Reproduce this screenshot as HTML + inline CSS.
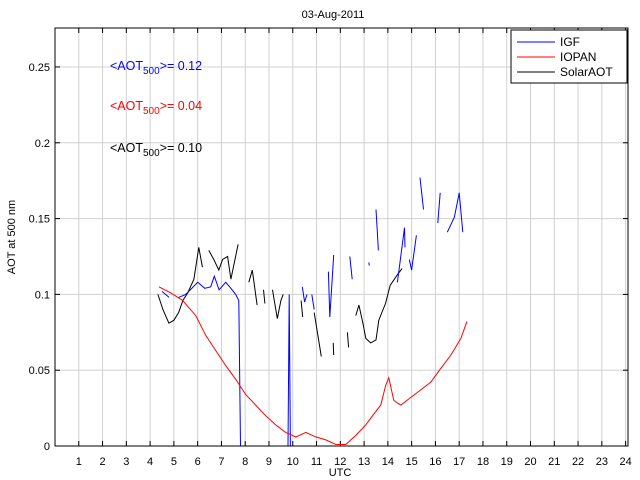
<!DOCTYPE html>
<html><head><meta charset="utf-8"><style>
body{margin:0;background:#fff;}
svg{display:block;font-family:"Liberation Sans",sans-serif;}
</style></head><body>
<svg id="chart" width="640" height="480" viewBox="0 0 640 480"></svg>
<script>
const xTicks=[1,2,3,4,5,6,7,8,9,10,11,12,13,14,15,16,17,18,19,20,21,22,23,24];
const yTicks=[0,0.05,0.1,0.15,0.2,0.25];
const yTickLabels=["0","0.05","0.1","0.15","0.2","0.25"];
const iopanT=[4.37,4.87,5.37,5.92,6.34,6.76,7.18,7.6,8.02,8.44,8.86,9.28,9.7,10.13,10.55,10.97,11.39,11.81,12.23,12.65,13.07,13.36,13.7,13.91,14.04,14.25,14.54,14.96,15.38,15.8,16.22,16.65,17.07,17.32];
const iopanV=[0.105,0.101,0.096,0.086,0.073,0.063,0.053,0.044,0.034,0.027,0.020,0.014,0.009,0.006,0.009,0.006,0.004,0.001,0.001,0.007,0.014,0.020,0.027,0.040,0.045,0.030,0.027,0.032,0.037,0.042,0.051,0.060,0.071,0.082];
const igfT=[4.5,4.8,null,5.2,5.5,6.0,6.3,6.55,6.7,6.9,7.18,7.4,7.6,7.73,7.8,9.8,9.85,9.9,null,10.4,10.5,10.6,null,10.8,10.9,null,11.5,11.56,11.72,null,12.4,12.5,null,13.2,13.22,null,13.5,13.6,null,14.4,14.7,14.72,null,14.9,15.0,15.2,null,15.35,15.5,null,16.1,16.2,null,16.5,16.8,17.0,17.15];
const igfV=[0.102,0.098,null,0.098,0.1,0.108,0.104,0.105,0.112,0.103,0.108,0.104,0.1,0.096,0,0,0.10,0,null,0.105,0.095,0.100,null,0.1,0.09,null,0.115,0.085,0.126,null,0.125,0.11,null,0.121,0.119,null,0.156,0.129,null,0.108,0.144,0.131,null,0.123,0.116,0.139,null,0.177,0.156,null,0.147,0.167,null,0.141,0.151,0.167,0.141];
const solarT=[4.33,4.54,4.79,5.0,5.2,5.38,5.58,5.84,6.05,6.2,null,6.47,6.68,6.89,7.05,7.26,7.4,7.7,null,8.15,8.3,8.5,null,8.77,8.83,null,9.15,9.35,9.5,9.6,null,10.35,10.42,null,10.9,11.2,null,11.7,11.72,null,12.3,12.35,null,12.65,12.78,12.95,13.07,13.28,13.5,13.62,13.9,14.1,14.4,14.6];
const solarV=[0.1,0.09,0.081,0.083,0.088,0.096,0.101,0.11,0.131,0.118,null,0.129,0.123,0.116,0.123,0.125,0.11,0.133,null,0.108,0.116,0.093,null,0.103,0.094,null,0.103,0.084,0.096,0.1,null,0.096,0.085,null,0.088,0.059,null,0.068,0.06,null,0.075,0.065,null,0.086,0.093,0.081,0.071,0.068,0.07,0.083,0.094,0.106,0.113,0.117];

const L=55,R=628,T=28,B=446,XMAX=24.1,YMAX=0.2757;
const X=t=>L+t/XMAX*(R-L);
const Y=v=>B-v/YMAX*(B-T);
const NS="http://www.w3.org/2000/svg";
const svg=document.getElementById('chart');
function mk(tag,attrs,parent){const e=document.createElementNS(NS,tag);for(const k in attrs)e.setAttribute(k,attrs[k]);(parent||svg).appendChild(e);return e;}

const bg=mk('rect',{x:L,y:T,width:R-L,height:B-T,fill:'#fff'});



xTicks.forEach(t=>{
  const g=mk('line',{x1:X(t),x2:X(t),y1:T,y2:B,stroke:'#d0d0d0','stroke-width':1});
  
  
  mk('line',{x1:X(t),x2:X(t),y1:B,y2:B-5,stroke:'#000'});
  mk('line',{x1:X(t),x2:X(t),y1:T,y2:T+5,stroke:'#000'});
  const tx=mk('text',{x:X(t),y:465,'font-size':11,'text-anchor':'middle',fill:'#000'});
  tx.textContent=t;
  
  
});
yTicks.forEach((v,i)=>{
  if(v>0){const g=mk('line',{x1:L,x2:R,y1:Y(v),y2:Y(v),stroke:'#d0d0d0','stroke-width':1});
  
  }
  mk('line',{x1:L,x2:L+5,y1:Y(v),y2:Y(v),stroke:'#000'});
  mk('line',{x1:R,x2:R-5,y1:Y(v),y2:Y(v),stroke:'#000'});
  const tx=mk('text',{x:50,y:Y(v)+4,'font-size':11,'text-anchor':'end',fill:'#000'});
  tx.textContent=yTickLabels[i];
  
  
});

function path(ts,vs,color,name){
  let d='',pen=false;
  for(let i=0;i<ts.length;i++){
    if(ts[i]===null){pen=false;continue;}
    d+=(pen?'L':'M')+X(ts[i]).toFixed(1)+' '+Y(vs[i]).toFixed(1)+' ';pen=true;
  }
  const p=mk('path',{d:d,fill:'none',stroke:color,'stroke-width':1});
  
  
}
path(solarT,solarV,'#000','solaraot-line');
path(igfT,igfV,'#0000ff','igf-line');
path(iopanT,iopanV,'#ff0000','iopan-line');

const frame=mk('rect',{x:L,y:T,width:R-L,height:B-T,fill:'none',stroke:'#000'});


</script>
<svg style="position:absolute;left:0;top:0" width="640" height="480">
  <text x="333" y="18" font-size="11" text-anchor="middle" font-family="Liberation Sans, sans-serif">03-Aug-2011</text>
  <text x="340" y="476" font-size="11" text-anchor="middle" font-family="Liberation Sans, sans-serif">UTC</text>
  <text transform="translate(15,237) rotate(-90)" font-size="11" text-anchor="middle" font-family="Liberation Sans, sans-serif">AOT at 500 nm</text>
  <g font-family="Liberation Sans, sans-serif" font-size="12.5">
    <text x="110" y="70" fill="#0000ff">&lt;AOT<tspan dy="4" font-size="10">500</tspan><tspan dy="-4">&gt;= 0.12</tspan></text>
    <text x="110" y="110" fill="#ff0000">&lt;AOT<tspan dy="4" font-size="10">500</tspan><tspan dy="-4">&gt;= 0.04</tspan></text>
    <text x="110" y="152" fill="#000">&lt;AOT<tspan dy="4" font-size="10">500</tspan><tspan dy="-4">&gt;= 0.10</tspan></text>
  </g>
  <g font-family="Liberation Sans, sans-serif" font-size="12">
    <rect x="511" y="30" width="116" height="53" fill="#fff" stroke="#000"/>
    <line x1="517" x2="555" y1="42" y2="42" stroke="#0000ff"/>
    <text x="560" y="46">IGF</text>
    <line x1="517" x2="555" y1="57" y2="57" stroke="#ff0000"/>
    <text x="560" y="61">IOPAN</text>
    <line x1="517" x2="555" y1="72" y2="72" stroke="#000"/>
    <text x="560" y="76">SolarAOT</text>
  </g>
</svg>
</body></html>
